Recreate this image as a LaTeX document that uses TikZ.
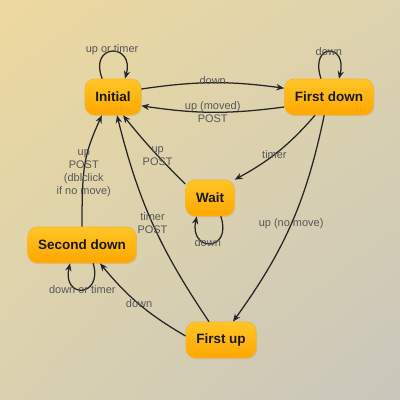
\documentclass[tikz,border=0pt]{standalone}
\usepackage{fontspec}
\setmainfont{Liberation Sans}
\usetikzlibrary{arrows.meta, shadows, shadings}
\usepackage{xcolor}

\definecolor{bgtl}{HTML}{EDD99F}
\definecolor{bgtr}{HTML}{DDD3AE}
\definecolor{bgbl}{HTML}{D9D1B0}
\definecolor{bgbr}{HTML}{C9C6BB}
\definecolor{boxtop}{HTML}{FFC626}
\definecolor{boxbot}{HTML}{FFA600}
\definecolor{boxline}{HTML}{F2B43A}
\definecolor{labelgray}{HTML}{575757}

\begin{document}
\begin{tikzpicture}[
        x=0.025cm, y=-0.025cm,
        >=Stealth,
        stbox/.style={
            rounded corners=0.24cm,
            minimum height=0.9cm,
            inner xsep=0.26cm,
            top color=boxtop,
            bottom color=boxbot,
            draw=boxline,
            line width=0.5pt,
            drop shadow={opacity=0.18, shadow xshift=0.6pt, shadow yshift=-0.8pt},
            font=\fontsize{9.6}{11}\selectfont\bfseries,
            text=black!90
        },
        edge/.style={
            ->,
            draw=black!85,
            line width=0.9pt,
            -{Stealth[length=5.5pt, width=4.5pt]}
        },
        lbl/.style={
            font=\fontsize{7.8}{9.2}\selectfont,
            text=labelgray,
            align=center,
            inner sep=1pt
        }
    ]
        % background
        \shade[upper left=bgtl, upper right=bgtr, lower left=bgbl, lower right=bgbr]
            (0,0) rectangle (400,400);
        \useasboundingbox (0,0) rectangle (400,400);

        % states
        \node[stbox] (I)  at (113,97)  {Initial};
        \node[stbox] (FD) at (329,97)  {First down};
        \node[stbox] (W)  at (210,198) {Wait};
        \node[stbox] (SD) at (82,245)  {Second down};
        \node[stbox] (FU) at (221,340) {First up};

        % self loops
        \draw[edge] ([xshift=-0.27cm]I.north) .. controls +(-0.35cm,0.9cm) and +(0.25cm,0.9cm)
            .. node[lbl, above=-4pt] {up or timer} ([xshift=0.3cm]I.north);
        \draw[edge] ([xshift=-0.2cm]FD.north) .. controls +(-0.3cm,0.9cm) and +(0.22cm,0.9cm)
            .. node[lbl, above=-4pt] {down} ([xshift=0.25cm]FD.north);
        \draw[edge] ([xshift=0.27cm]W.south) .. controls +(0.3cm,-0.9cm) and +(-0.2cm,-0.9cm)
            .. node[lbl, pos=0.55, below=-5pt] {down} ([xshift=-0.33cm]W.south);
        \draw[edge] ([xshift=0.28cm]SD.south) .. controls +(0.25cm,-0.85cm) and +(-0.2cm,-0.9cm)
            .. node[lbl, below=-4pt] {down or timer} ([xshift=-0.3cm]SD.south);

        % transitions
        \draw[edge] ([yshift=0.2cm]I.east) to[bend left=8]
            node[lbl, pos=0.5, above=-3pt] {down} ([yshift=0.22cm]FD.west);
        \draw[edge] ([yshift=-0.25cm]FD.west) to[bend left=8]
            node[lbl, pos=0.5] {up (moved)\\POST} ([yshift=-0.22cm]I.east);
        \draw[edge] ([xshift=-0.35cm]FD.south) to[bend left=10]
            node[lbl, pos=0.55] {timer} (W.north east);
        \draw[edge] ([xshift=-0.12cm]FD.south) to[bend left=12]
            node[lbl, pos=0.5] {up (no move)} ([xshift=0.3cm]FU.north);
        \draw[edge] ([yshift=0.35cm]W.west) to[bend left=3]
            node[lbl, pos=0.42] {up\\POST} ([xshift=0.25cm]I.south);
        \draw[edge] ([xshift=-0.3cm]FU.north) to[bend left=10]
            node[lbl, pos=0.5] {timer\\POST} ([xshift=0.1cm]I.south);
        \draw[edge] ([yshift=0.1cm]FU.west) to[bend left=10]
            node[lbl, pos=0.5] {down} ([xshift=0.45cm]SD.south);
        \draw[edge] (SD.north) .. controls +(0,1.5cm) and +(-0.45cm,-1.0cm)
            .. node[lbl, pos=0.4] {up\\POST\\(dblclick\\if no move)} ([xshift=-0.28cm]I.south);
\end{tikzpicture}
\end{document}
